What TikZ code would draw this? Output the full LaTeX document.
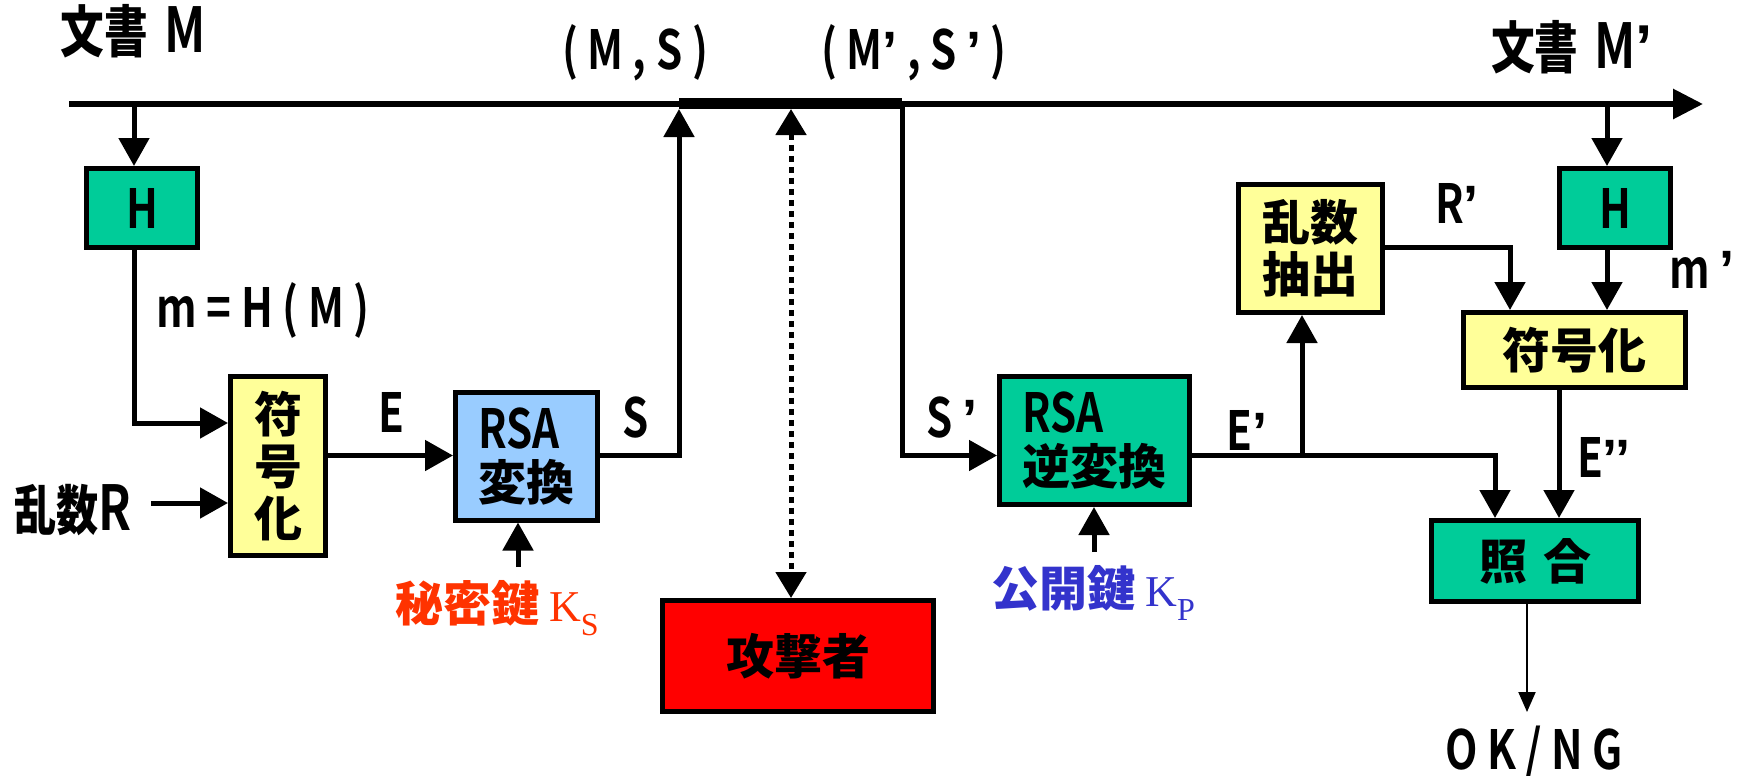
\documentclass[tikz,border=0pt]{standalone}
\usepackage{fontspec}
\setmainfont{Noto Sans CJK JP}
\newfontfamily\lc{Noto Sans CJK JP Bold}[FakeStretch=0.78]
\newfontfamily\ser{Liberation Serif}
\newfontfamily\qf{Liberation Sans}
\usetikzlibrary{arrows.meta}
\definecolor{boxgreen}{HTML}{00CC99}
\definecolor{boxyellow}{HTML}{FFFF99}
\definecolor{boxblue}{HTML}{99CCFF}
\definecolor{boxred}{HTML}{FF0000}
\definecolor{keyred}{HTML}{FF3300}
\definecolor{keyblue}{HTML}{3333CC}
\newcommand\myfj{\fontsize{24}{26}\selectfont\bfseries}
\newcommand\myfjb{\fontsize{28}{30}\selectfont\bfseries}
\newcommand\myfl{\fontsize{27}{26}\selectfont\lc\mdseries}
\newcommand\myflb{\fontsize{31}{30}\selectfont\lc\mdseries}
\newcommand\myq{{\qf\bfseries ’}}
\begin{document}
\begin{tikzpicture}[x=0.5pt,y=-0.5pt,
  box/.style={draw=black,line width=2.5pt,inner sep=0pt,align=center,font=\myfj},
  conn/.style={line width=2.5pt},
  arr/.style={conn,-{Triangle[length=14pt,width=15pt]}},
  dotarr/.style={line width=2.5pt,dash pattern=on 3.25pt off 2.25pt,{Triangle[length=13pt,width=15pt]}-{Triangle[length=13pt,width=15pt]}},
  thinarr/.style={line width=1pt,-{Triangle[length=10pt,width=8.5pt]}},
  lab/.style={inner sep=0pt,font=\myfl},
  biglab/.style={inner sep=0pt,font=\myflb}]
\useasboundingbox (0,0) rectangle (1745,776);

% helper coordinates
\coordinate (mainL) at (69,104);
\coordinate (mainR) at (1703,104);
\coordinate (barL) at (679,103.5);
\coordinate (barR) at (902,103.5);
\coordinate (tapL) at (134,104);
\coordinate (tapR) at (1607,104);
\coordinate (yA) at (0,423);
\coordinate (yR) at (0,503);
\coordinate (yE) at (0,455.5);
\coordinate (yRp) at (0,247);
\coordinate (rStart) at (151,503);
\coordinate (ksTop) at (518,567);
\coordinate (sUp) at (679,109);
\coordinate (dTop) at (791,109);
\coordinate (kpTop) at (1094,552);
\coordinate (jn) at (1302,455.5);
\coordinate (xE) at (1495,0);
\coordinate (xR) at (1510,0);
\coordinate (xEpp) at (1559,0);
\coordinate (xOK) at (1527,0);
\coordinate (okTip) at (1527,712);

% main line and channel
\draw[line width=3pt,-{Triangle[length=15pt,width=14.5pt]}] (mainL) -- (mainR);
\draw[line width=5.5pt] (barL) -- (barR);

% boxes
\node[box,fill=boxgreen,minimum width=55.5pt,minimum height=39.5pt] (H1) at (142,208) {\myfl H};
\node[box,fill=boxyellow,minimum width=47.5pt,minimum height=89.5pt] (Enc1) at (278,466) {符\\号\\化};
\node[box,fill=boxblue,minimum width=71pt,minimum height=64pt,align=left] (RSA1) at (526.5,456) {{\myfl RSA}\\変換};
\node[box,fill=boxred,minimum width=135.5pt,minimum height=55.5pt] (Atk) at (798,656) {攻撃者};
\node[box,fill=boxgreen,minimum width=95pt,minimum height=64pt,align=left] (RSA2) at (1094.5,440.5) {{\myfl RSA}\\逆変換};
\node[box,fill=boxyellow,minimum width=72pt,minimum height=64pt] (Ext) at (1310.5,248.5) {乱数\\抽出};
\node[box,fill=boxgreen,minimum width=55.5pt,minimum height=39.5pt] (H2) at (1615,208) {\myfl H};
\node[box,fill=boxyellow,minimum width=111pt,minimum height=37.5pt] (Enc2) at (1574.5,350) {符号化};
\node[box,fill=boxgreen,minimum width=103.5pt,minimum height=40.5pt] (Cmp) at (1535,561) {照\hspace{8pt}合};

% labels
\node[biglab] (tDocM) at (133,31) {{\myfjb 文書}\hspace{8pt}M};
\node[lab] (tMS) at (635,53) {( M , S )};
\node[lab] (tMSp) at (914,53) {( M\myq\ , S\,\myq\ )};
\node[biglab] (tDocMp) at (1572,47) {{\myfjb 文書}\hspace{8pt}M\myq};
\node[lab] (tm) at (263,310) {m = H ( M )};
\node[biglab] (tR) at (73,510) {{\fontsize{27}{30}\selectfont\bfseries 乱数}R};
\node[lab] (tE) at (391,412) {E};
\node[lab] (tS) at (636,418) {S};
\node[lab] (tSp) at (952,418) {S\,\myq};
\node[lab] (tEp) at (1247,430) {E\myq};
\node[lab] (tRp) at (1457,203) {R\myq};
\node[lab] (tmp) at (1702,270) {m\,\myq};
\node[lab] (tEpp) at (1604,457) {E\myq\myq};
\node[lab] (tOK) at (1534,753) {O K / N G};
\node[inner sep=0pt,text=keyred] (tKS) at (497,608) {{\myfj 秘密鍵}\hspace{5pt}{\ser\fontsize{22}{24}\selectfont K\raisebox{-7pt}{\fontsize{16}{18}\selectfont S}}};
\node[inner sep=0pt,text=keyblue] (tKP) at (1093,593) {{\myfj 公開鍵}\hspace{5pt}{\ser\fontsize{22}{24}\selectfont K\raisebox{-7pt}{\fontsize{16}{18}\selectfont P}}};

% connectors
\draw[arr] (tapL) -- (tapL |- H1.north);
\draw[arr] (H1.south -| tapL) |- (Enc1.west |- yA);
\draw[arr] (rStart) -- (Enc1.west |- yR);
\draw[arr] (Enc1.east |- yE) -- (RSA1.west |- yE);
\draw[arr] (ksTop) -- (ksTop |- RSA1.south);
\draw[arr] (RSA1.east |- yE) -| (sUp);
\draw[dotarr] (dTop) -- (dTop |- Atk.north);
\draw[arr] (barR) |- (RSA2.west |- yE);
\draw[arr] (kpTop) -- (kpTop |- RSA2.south);
\draw[conn] (RSA2.east |- yE) -- (jn);
\draw[arr] (jn) -- (jn |- Ext.south);
\draw[arr] (jn) -| (xE |- Cmp.north);
\draw[arr] (Ext.east |- yRp) -| (xR |- Enc2.north);
\draw[arr] (tapR) -- (tapR |- H2.north);
\draw[arr] (H2.south -| tapR) -- (tapR |- Enc2.north);
\draw[arr] (Enc2.south -| xEpp) -- (xEpp |- Cmp.north);
\draw[thinarr] (Cmp.south -| xOK) -- (okTip);
\end{tikzpicture}
\end{document}
